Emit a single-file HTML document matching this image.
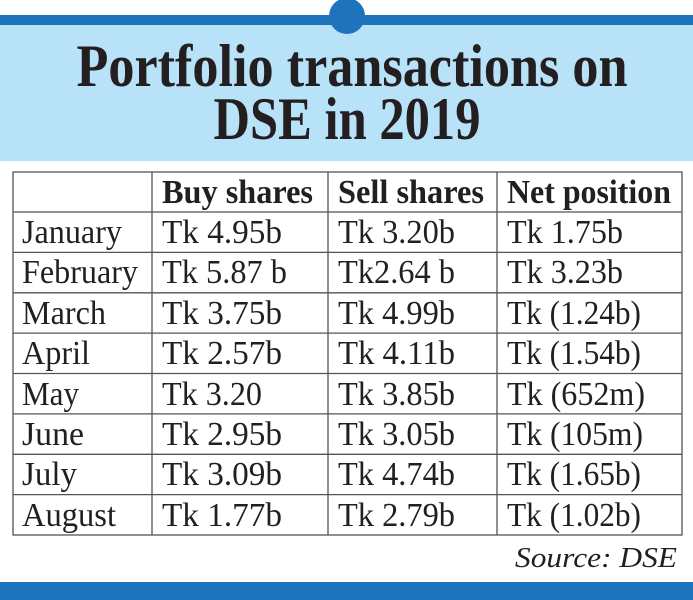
<!DOCTYPE html>
<html><head><meta charset="utf-8"><style>
html,body{margin:0;padding:0;background:#fff;width:693px;height:600px;overflow:hidden}
svg{display:block}
</style></head><body>
<svg width="693" height="600" viewBox="0 0 693 600" xmlns="http://www.w3.org/2000/svg" font-family="Liberation Serif, serif">
<rect x="0" y="25" width="693" height="136" fill="#b8e2f8"/>
<rect x="0" y="15" width="693" height="10" fill="#1e74bc"/>
<circle cx="347" cy="16" r="18" fill="#1e74bc"/>
<text x="352" y="86" font-size="60" font-weight="bold" text-anchor="middle" textLength="551" lengthAdjust="spacingAndGlyphs" fill="#231f20">Portfolio transactions on</text>
<text x="347" y="139" font-size="60" font-weight="bold" text-anchor="middle" textLength="267" lengthAdjust="spacingAndGlyphs" fill="#231f20">DSE in 2019</text>
<g stroke="#555" stroke-width="1.3" fill="none">
<rect x="13" y="172" width="669" height="363"/>
<line x1="152" y1="172" x2="152" y2="535"/>
<line x1="328" y1="172" x2="328" y2="535"/>
<line x1="497" y1="172" x2="497" y2="535"/>
<line x1="13" y1="212" x2="682" y2="212"/>
<line x1="13" y1="252.4" x2="682" y2="252.4"/>
<line x1="13" y1="292.8" x2="682" y2="292.8"/>
<line x1="13" y1="333.1" x2="682" y2="333.1"/>
<line x1="13" y1="373.5" x2="682" y2="373.5"/>
<line x1="13" y1="413.9" x2="682" y2="413.9"/>
<line x1="13" y1="454.3" x2="682" y2="454.3"/>
<line x1="13" y1="494.6" x2="682" y2="494.6"/>
</g>
<g font-size="34" font-weight="bold" fill="#231f20">
<text x="162" y="203" textLength="151" lengthAdjust="spacingAndGlyphs">Buy shares</text>
<text x="338" y="203" textLength="146" lengthAdjust="spacingAndGlyphs">Sell shares</text>
<text x="507" y="203" textLength="164" lengthAdjust="spacingAndGlyphs">Net position</text>
</g>
<g font-size="34" fill="#231f20">
<text x="22" y="243" textLength="100" lengthAdjust="spacingAndGlyphs">January</text>
<text x="162" y="243" textLength="120" lengthAdjust="spacingAndGlyphs">Tk 4.95b</text>
<text x="338" y="243" textLength="117" lengthAdjust="spacingAndGlyphs">Tk 3.20b</text>
<text x="507" y="243" textLength="116" lengthAdjust="spacingAndGlyphs">Tk 1.75b</text>

<text x="22" y="283" textLength="116" lengthAdjust="spacingAndGlyphs">February</text>
<text x="162" y="283" textLength="125" lengthAdjust="spacingAndGlyphs">Tk 5.87 b</text>
<text x="338" y="283" textLength="117" lengthAdjust="spacingAndGlyphs">Tk2.64 b</text>
<text x="507" y="283" textLength="116" lengthAdjust="spacingAndGlyphs">Tk 3.23b</text>

<text x="22" y="324" textLength="84" lengthAdjust="spacingAndGlyphs">March</text>
<text x="162" y="324" textLength="120" lengthAdjust="spacingAndGlyphs">Tk 3.75b</text>
<text x="338" y="324" textLength="117" lengthAdjust="spacingAndGlyphs">Tk 4.99b</text>
<text x="507" y="324" textLength="134" lengthAdjust="spacingAndGlyphs">Tk (1.24b)</text>

<text x="22" y="364" textLength="68" lengthAdjust="spacingAndGlyphs">April</text>
<text x="162" y="364" textLength="120" lengthAdjust="spacingAndGlyphs">Tk 2.57b</text>
<text x="338" y="364" textLength="117" lengthAdjust="spacingAndGlyphs">Tk 4.11b</text>
<text x="507" y="364" textLength="134" lengthAdjust="spacingAndGlyphs">Tk (1.54b)</text>

<text x="22" y="405" textLength="57" lengthAdjust="spacingAndGlyphs">May</text>
<text x="162" y="405" textLength="100" lengthAdjust="spacingAndGlyphs">Tk 3.20</text>
<text x="338" y="405" textLength="117" lengthAdjust="spacingAndGlyphs">Tk 3.85b</text>
<text x="507" y="405" textLength="138" lengthAdjust="spacingAndGlyphs">Tk (652m)</text>

<text x="22" y="445" textLength="62" lengthAdjust="spacingAndGlyphs">June</text>
<text x="162" y="445" textLength="120" lengthAdjust="spacingAndGlyphs">Tk 2.95b</text>
<text x="338" y="445" textLength="117" lengthAdjust="spacingAndGlyphs">Tk 3.05b</text>
<text x="507" y="445" textLength="136" lengthAdjust="spacingAndGlyphs">Tk (105m)</text>

<text x="22" y="485" textLength="55" lengthAdjust="spacingAndGlyphs">July</text>
<text x="162" y="485" textLength="120" lengthAdjust="spacingAndGlyphs">Tk 3.09b</text>
<text x="338" y="485" textLength="117" lengthAdjust="spacingAndGlyphs">Tk 4.74b</text>
<text x="507" y="485" textLength="134" lengthAdjust="spacingAndGlyphs">Tk (1.65b)</text>

<text x="22" y="526" textLength="94" lengthAdjust="spacingAndGlyphs">August</text>
<text x="162" y="526" textLength="120" lengthAdjust="spacingAndGlyphs">Tk 1.77b</text>
<text x="338" y="526" textLength="117" lengthAdjust="spacingAndGlyphs">Tk 2.79b</text>
<text x="507" y="526" textLength="134" lengthAdjust="spacingAndGlyphs">Tk (1.02b)</text>
</g>
<text x="515" y="567" font-size="28" font-style="italic" fill="#231f20" textLength="162" lengthAdjust="spacingAndGlyphs">Source: DSE</text>
<rect x="0" y="582" width="693" height="18" fill="#1e74bc"/>
</svg>
</body></html>
